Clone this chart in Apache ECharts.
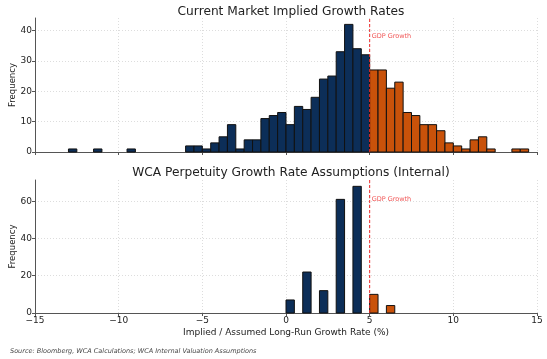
<!DOCTYPE html>
<html>
<head>
<meta charset="utf-8">
<script src="https://cdn.jsdelivr.net/npm/echarts@6/dist/echarts.min.js"></script>
<style>
html,body{margin:0;padding:0;background:#fff;}
#chart{width:547px;height:359px;}
</style>
</head>
<body>
<div id="chart"></div>
<script>
// ---- Data ----
const binWidth = 0.5;
// Top panel: Current market implied growth rates (bin left edges, counts)
const topBelowEdges = [-13, -11.5, -9.5, -6, -5.5, -5, -4.5, -4, -3.5, -3, -2.5, -2, -1.5, -1, -0.5, 0, 0.5, 1, 1.5, 2, 2.5, 3, 3.5, 4, 4.5];
const topBelowCounts = [1, 1, 1, 2, 2, 1, 3, 5, 9, 1, 4, 4, 11, 12, 13, 9, 15, 14, 18, 24, 25, 33, 42, 34, 32];
const topAboveEdges = [5, 5.5, 6, 6.5, 7, 7.5, 8, 8.5, 9, 9.5, 10, 10.5, 11, 11.5, 12, 13.5, 14];
const topAboveCounts = [27, 27, 21, 23, 13, 12, 9, 9, 7, 3, 2, 1, 4, 5, 1, 1, 1];
// Bottom panel: WCA perpetuity growth rate assumptions
const botBelowEdges = [0, 1, 2, 3, 4];
const botBelowCounts = [7, 22, 12, 61, 68];
const botAboveEdges = [5, 6];
const botAboveCounts = [10, 4];
const gdpGrowth = 5;
const xTicks = [-15, -10, -5, 0, 5, 10, 15];
const topYTicks = [0, 10, 20, 30, 40];
const botYTicks = [0, 20, 40, 60];

const titles = ['Current Market Implied Growth Rates', 'WCA Perpetuity Growth Rate Assumptions (Internal)'];
const xLabel = 'Implied / Assumed Long-Run Growth Rate (%)';
const yLabel = 'Frequency';
const sourceText = 'Source: Bloomberg, WCA Calculations; WCA Internal Valuation Assumptions';

const BLUE = '#0c2e58';
const ORANGE = '#c9520a';
const RED = '#ee2a2a';
const FONT = 'DejaVu Sans';

const topMax = Math.max(...topBelowCounts, ...topAboveCounts) * 1.05;
const botMax = Math.max(...botBelowCounts, ...botAboveCounts) * 1.05;

function toRows(edges, counts) {
  return edges.map((e, i) => [e, e + binWidth, counts[i]]);
}
function histSeries(idx, edges, counts, color) {
  return {
    type: 'custom',
    xAxisIndex: idx, yAxisIndex: idx,
    data: toRows(edges, counts),
    encode: { x: [0, 1], y: 2 },
    renderItem: function (params, api) {
      const p0 = api.coord([api.value(0), 0]);
      const p1 = api.coord([api.value(1), api.value(2)]);
      return {
        type: 'rect',
        shape: { x: p0[0], y: p1[1], width: p1[0] - p0[0], height: p0[1] - p1[1] },
        style: { fill: color, stroke: '#111', lineWidth: 1 }
      };
    },
    silent: true
  };
}
function gdpLine(idx, yMax) {
  return {
    type: 'line',
    xAxisIndex: idx, yAxisIndex: idx,
    data: [[gdpGrowth, 0], [gdpGrowth, yMax]],
    symbol: 'none',
    lineStyle: { color: RED, type: [3, 2], width: 1 },
    itemStyle: { color: RED },
    silent: true, z: 6
  };
}
function gdpLabel(idx, yPos) {
  return {
    type: 'scatter',
    xAxisIndex: idx, yAxisIndex: idx,
    data: [[gdpGrowth, yPos]],
    symbolSize: 0,
    itemStyle: { color: RED },
    label: { show: true, position: 'right', distance: 2, formatter: 'GDP Growth', color: RED, fontSize: 6.5, fontFamily: FONT },
    silent: true, z: 6
  };
}
const minus = v => String(v).replace('-', '\u2212');

function xAxisDef(idx, showLabels) {
  return {
    type: 'value', gridIndex: idx, min: xTicks[0], max: xTicks[xTicks.length - 1], interval: 5,
    axisLine: { show: true, onZero: false, lineStyle: { color: '#555', width: 1 } },
    axisTick: { show: true, length: 3, lineStyle: { color: '#555' } },
    axisLabel: { show: showLabels, color: '#222', fontSize: 9, fontFamily: FONT, margin: 3, formatter: minus },
    splitLine: { show: true, lineStyle: { color: '#d4d4d4', type: [1, 2], width: 0.8 } },
    name: showLabels ? xLabel : '', nameLocation: 'middle', nameGap: 15,
    nameTextStyle: { color: '#222', fontSize: 9, fontFamily: FONT }
  };
}
function yAxisDef(idx, ticks, maxV) {
  return {
    type: 'value', gridIndex: idx, min: 0, max: maxV, interval: ticks[1] - ticks[0],
    axisLine: { show: true, onZero: false, lineStyle: { color: '#555', width: 1 } },
    axisTick: { show: true, length: 3, lineStyle: { color: '#555' } },
    axisLabel: { color: '#222', fontSize: 9, fontFamily: FONT, margin: 3, showMaxLabel: false,
      formatter: v => (ticks.indexOf(v) >= 0 ? String(v) : '') },
    splitLine: { show: true, showMaxLine: false, lineStyle: { color: '#d4d4d4', type: [1, 2], width: 0.8 } },
    name: yLabel, nameLocation: 'middle', nameGap: 18, nameRotate: 90, nameMoveOverlap: false,
    nameTextStyle: { color: '#222', fontSize: 8.5, fontFamily: FONT }
  };
}

const chart = echarts.init(document.getElementById('chart'), null, { renderer: 'canvas' });
chart.setOption({
  animation: false,
  backgroundColor: '#fff',
  title: [
    { text: titles[0], left: 286, top: 1, textAlign: 'center', textStyle: { fontSize: 12.2, fontWeight: 'normal', color: '#222', fontFamily: FONT } },
    { text: titles[1], left: 286, top: 162, textAlign: 'center', textStyle: { fontSize: 12.2, fontWeight: 'normal', color: '#222', fontFamily: FONT } },
    { text: sourceText, left: 5, top: 343, textStyle: { fontSize: 6.5, fontStyle: 'italic', fontWeight: 'normal', color: '#444', fontFamily: FONT } }
  ],
  grid: [
    { left: 35, right: 10, top: 18, height: 134, outerBoundsMode: 'none', containLabel: false },
    { left: 35, right: 10, top: 180, height: 133, outerBoundsMode: 'none', containLabel: false }
  ],
  xAxis: [xAxisDef(0, false), xAxisDef(1, true)],
  yAxis: [yAxisDef(0, topYTicks, topMax), yAxisDef(1, botYTicks, botMax)],
  series: [
    histSeries(0, topBelowEdges, topBelowCounts, BLUE),
    histSeries(0, topAboveEdges, topAboveCounts, ORANGE),
    histSeries(1, botBelowEdges, botBelowCounts, BLUE),
    histSeries(1, botAboveEdges, botAboveCounts, ORANGE),
    gdpLine(0, topMax),
    gdpLine(1, botMax),
    gdpLabel(0, 38),
    gdpLabel(1, 61)
  ]
});
</script>
</body>
</html>
